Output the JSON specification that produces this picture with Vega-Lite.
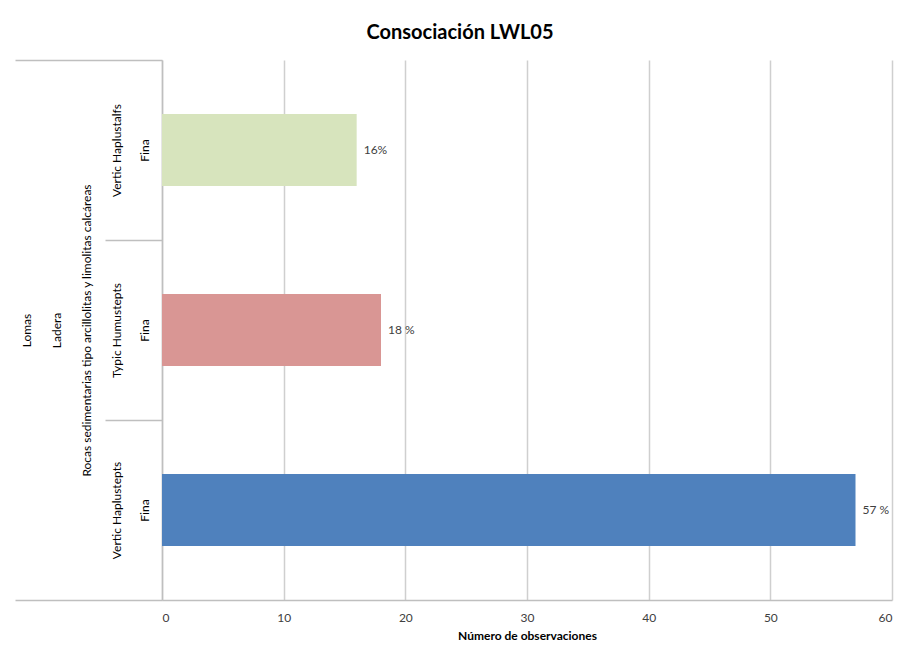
{
  "$schema": "https://vega.github.io/schema/vega-lite/v6.json",
  "autosize": {"type": "none"},
  "padding": {"left": 162, "top": 60, "right": 9, "bottom": 58},
  "width": 730,
  "height": 540,
  "background": "white",
  "title": {
    "text": "Consociación LWL05",
    "font": "Lato",
    "fontSize": 20,
    "fontWeight": "bold",
    "color": "#000000",
    "anchor": "middle",
    "dx": -67,
    "offset": 16
  },
  "data": {
    "values": [
      {"cat": "Vertic Haplustalfs|Fina", "suelo": "Vertic Haplustalfs", "n": 16, "label": "16%"},
      {"cat": "Typic Humustepts|Fina", "suelo": "Typic Humustepts", "n": 18, "label": "18 %"},
      {"cat": "Vertic Haplustepts|Fina", "suelo": "Vertic Haplustepts", "n": 57, "label": "57 %"}
    ]
  },
  "encoding": {
    "y": {
      "field": "cat",
      "type": "nominal",
      "sort": null,
      "scale": {"paddingInner": 0, "paddingOuter": 0},
      "axis": {
        "title": ["Lomas", "Ladera", "Rocas sedimentarias tipo arcillolitas y limolitas calcáreas"],
        "titleAngle": 270,
        "titleX": -141,
        "titleY": 270,
        "titleAlign": "center",
        "titleBaseline": "top",
        "titleLineHeight": 30,
        "titleFont": "Lato",
        "titleFontSize": 12,
        "titleFontWeight": "normal",
        "titleColor": "#000000",
        "labelExpr": "split(datum.label, '|')",
        "labelAngle": 270,
        "labelAlign": "center",
        "labelBaseline": "top",
        "labelLineHeight": 28,
        "labelFont": "Lato",
        "labelFontSize": 12,
        "labelColor": "#000000",
        "labelPadding": {"condition": {"test": "datum.index === 1 || datum.index < 0", "value": -96}, "value": -6},
        "tickBand": "extent",
        "tickSize": {"condition": {"test": "datum.index === 1 || datum.index < 0", "value": 147}, "value": 57},
        "tickColor": "#BFBFBF",
        "tickWidth": 1.5,
        "domainColor": "#BFBFBF",
        "domainWidth": 1.5,
        "grid": false
      }
    }
  },
  "layer": [
    {
      "mark": {"type": "bar", "height": {"band": 0.4}},
      "encoding": {
        "x": {
          "field": "n",
          "type": "quantitative",
          "scale": {"domain": [0, 60], "nice": false},
          "axis": {
            "title": "Número de observaciones",
            "values": [0, 10, 20, 30, 40, 50, 60],
            "grid": true,
            "gridColor": "#CFCFCF",
            "gridWidth": 1.5,
            "ticks": false,
            "domainColor": "#BFBFBF",
            "domainWidth": 1.5,
            "labelPadding": 12,
            "labelFont": "Lato",
            "labelFontSize": 12,
            "labelColor": "#404040",
            "titleFont": "Lato",
            "titleFontSize": 12,
            "titleFontWeight": "bold",
            "titleColor": "#000000",
            "titlePadding": 7
          }
        },
        "color": {
          "field": "suelo",
          "type": "nominal",
          "scale": {
            "domain": ["Vertic Haplustalfs", "Typic Humustepts", "Vertic Haplustepts"],
            "range": ["#D7E4BD", "#D99694", "#4F81BD"]
          },
          "legend": null
        }
      }
    },
    {
      "mark": {"type": "text", "align": "left", "dx": 7, "font": "Lato", "fontSize": 12, "color": "#404040"},
      "encoding": {
        "x": {"field": "n", "type": "quantitative"},
        "text": {"field": "label"}
      }
    }
  ],
  "config": {"view": {"stroke": null}}
}
